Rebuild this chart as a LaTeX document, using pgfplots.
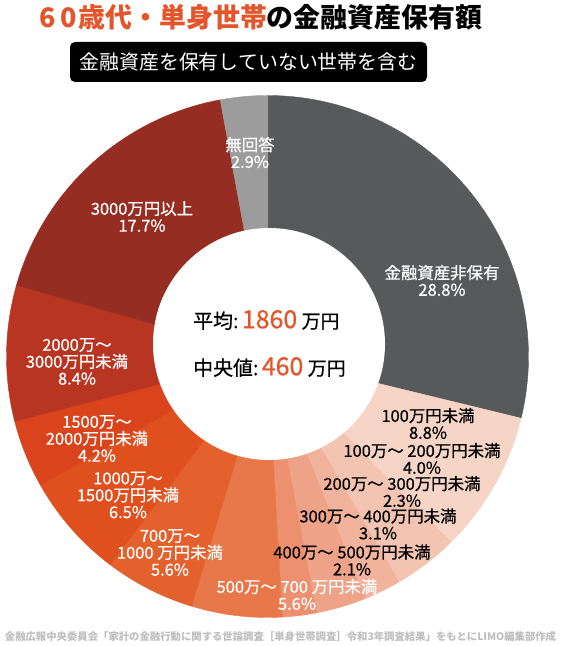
\documentclass[border=0pt]{standalone}
\usepackage{pgfplots}
\pgfplotsset{compat=1.18}
\usepackage{pgfplotstable}
\usepackage{fontspec}
\setmainfont{Noto Sans CJK JP}
\newfontfamily\medfont{Noto Sans CJK JP}[FakeBold=0.6]

\definecolor{cNone}{HTML}{58595B}
\definecolor{c100}{HTML}{F6D4C6}
\definecolor{c200}{HTML}{F3C4B1}
\definecolor{c300}{HTML}{F1B39C}
\definecolor{c400}{HTML}{EEA287}
\definecolor{c500}{HTML}{EC9070}
\definecolor{c700}{HTML}{E8774A}
\definecolor{c1000}{HTML}{E4612E}
\definecolor{c1500}{HTML}{E0501F}
\definecolor{c2000}{HTML}{D9441C}
\definecolor{c3000}{HTML}{B83522}
\definecolor{cTop}{HTML}{962D22}
\definecolor{cNA}{HTML}{9C9C9C}
\definecolor{accent}{HTML}{E3552B}

\tikzset{lbl/.style={font=\medfont\fontsize{16.5}{17}\selectfont, align=center, inner sep=0pt}}

% share of households, clockwise from 12 o'clock
\pgfplotstableread{
val  color
28.8 cNone
8.8  c100
4.0  c200
2.3  c300
3.1  c400
2.1  c500
5.6  c700
5.6  c1000
6.5  c1500
4.2  c2000
8.4  c3000
17.7 cTop
2.9  cNA
}\pietable

\begin{document}
\begin{tikzpicture}
\begin{axis}[
    x=1bp, y=1bp,
    xmin=0, xmax=561, ymin=0, ymax=646,
    hide axis, clip=false,
]
\fill[white] (axis cs:0,0) rectangle (axis cs:561,646);

% donut slices
\gdef\cum{0}
\pgfplotsforeachungrouped \i in {0,...,12}{%
    \pgfplotstablegetelem{\i}{val}\of\pietable \let\v\pgfplotsretval
    \pgfplotstablegetelem{\i}{color}\of\pietable \let\c\pgfplotsretval
    \pgfmathsetmacro\a{90-3.6*\cum}%
    \pgfmathsetmacro\b{90-3.6*(\cum+\v)}%
    \pgfmathsetmacro\cum{\cum+\v}%
    \edef\temp{\noexpand\fill[\c, draw=\c, line width=0.4bp]
        (axis cs:267.5,289.5) -- ++(\a:261bp)
        arc[start angle=\a, end angle=\b, radius=261bp] -- cycle;}%
    \temp
}
\fill[white] (axis cs:269,302) circle[radius=116bp];

% title
\node[font=\fontsize{27}{29}\selectfont\bfseries] at (axis cs:261,629)
    {\textcolor{accent}{6\kern4bp 0\kern2bp 歳代・単身世帯}の金融資産保有額};
\fill[black, rounded corners=5bp] (axis cs:70,564) rectangle (axis cs:427,604);
\node[white, font=\fontsize{20}{22}\selectfont] at (axis cs:248.5,584)
    {金融資産を保有していない世帯を含む};

% centre
\node[anchor=west, inner sep=0pt] at (axis cs:193,326)
    {\medfont\fontsize{20}{22}\selectfont 平均:\,%
     \textcolor{accent}{\fontsize{25}{26}\selectfont 1860}
     \fontsize{19}{20}\selectfont 万円};
\node[anchor=west, inner sep=0pt] at (axis cs:193,279)
    {\medfont\fontsize{20}{22}\selectfont 中央値:\,%
     \textcolor{accent}{\fontsize{25}{26}\selectfont 460}
     \fontsize{19}{20}\selectfont 万円};

% slice labels
\node[lbl, white] at (axis cs:442,365.5) {金融資産非保有\\28.8\%};
\node[lbl] at (axis cs:428,222.5) {100万円未満\\8.8\%};
\node[lbl] at (axis cs:422,187.5) {100万〜 200万円未満\\4.0\%};
\node[lbl] at (axis cs:402,154.5) {200万〜 300万円未満\\2.3\%};
\node[lbl] at (axis cs:378,122) {300万〜 400万円未満\\3.1\%};
\node[lbl] at (axis cs:352,86) {400万〜 500万円未満\\2.1\%};
\node[lbl, white] at (axis cs:297,51.5) {500万〜 700 万円未満\\5.6\%};
\node[lbl, white] at (axis cs:170,93.5) {700万〜\\1000 万円未満\\5.6\%};
\node[lbl, white] at (axis cs:128,151) {1000万〜\\1500万円未満\\6.5\%};
\node[lbl, white] at (axis cs:97,207.5) {1500万〜\\2000万円未満\\4.2\%};
\node[lbl, white] at (axis cs:77,284.5) {2000万〜\\3000万円未満\\8.4\%};
\node[lbl, white] at (axis cs:142,429.5) {3000万円以上\\17.7\%};
\node[lbl, white] at (axis cs:250,493.5) {無回答\\2.9\%};

% source
\node[gray!50, font=\fontsize{10.4}{11}\selectfont\bfseries] at (axis cs:280.5,9)
    {金融広報中央委員会「家計の金融行動に関する世論調査［単身世帯調査］令和3年調査結果」をもとにLIMO編集部作成};
\end{axis}
\end{tikzpicture}
\end{document}
